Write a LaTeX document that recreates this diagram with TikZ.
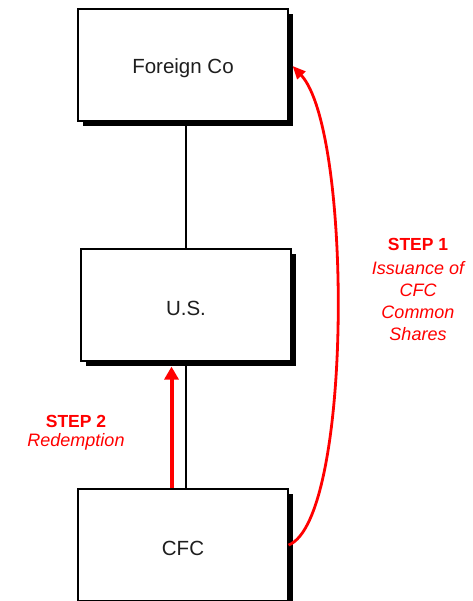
\documentclass[tikz,border=0pt]{standalone}
\usepackage{fontspec}
\setmainfont{Liberation Sans}
\usetikzlibrary{arrows.meta,shadows,calc}
\definecolor{stepred}{RGB}{255,0,0}
\definecolor{labelgray}{RGB}{30,30,30}
\tikzset{
  entity/.style={draw=black, line width=1.2pt, fill=white, minimum width=210pt, minimum height=112pt,
    inner sep=0pt, font=\fontsize{20.5}{24}\selectfont, text=labelgray,
    drop shadow={shadow xshift=5pt, shadow yshift=-5pt, fill=black, opacity=1}},
  link/.style={draw=black, line width=1.2pt},
  steparrow/.style={draw=stepred, line width=4pt, -{Triangle[length=13pt,width=14pt]}},
  curvearrow/.style={draw=stepred, line width=2.8pt, -{Triangle[length=13pt,width=11pt]}},
  steptitle/.style={text=stepred, font=\fontsize{17.5}{21}\selectfont\bfseries, inner sep=0pt},
  stepdesc/.style={text=stepred, font=\fontsize{18}{22.2}\selectfont\itshape, align=center, inner sep=0pt},
}
\newcommand{\boxlabel}[1]{\raisebox{-3pt}[\height][\depth]{#1}}
\begin{document}
\begin{tikzpicture}[x=1pt,y=-1pt]
\clip (0,0) rectangle (472,601);
\fill[white] (0,0) rectangle (472,601);
\node[entity] (fc) at (183,65) {\boxlabel{Foreign Co}};
\node[entity] (us) at (186,305) {\boxlabel{U.S.}};
\node[entity] (cfc) at (183,545) {\boxlabel{CFC}};
\draw[link] (us.north |- fc.south) -- (us.north);
\draw[link] (us.south) -- (us.south |- cfc.north);
\draw[steparrow] ([xshift=-14.5pt]cfc.north -| us.south) -- ([xshift=-14.5pt,yshift=-5pt]us.south);
\draw[curvearrow] (cfc.east) .. controls ($(cfc.east)+(64,-25)$) and ($(fc.east)+(64,65)$) .. ([xshift=4pt,yshift=-1pt]fc.east);
\node[steptitle] (s1t) at (418,244) {STEP 1};
\node[stepdesc, anchor=north] (s1d) at (418,261) {Issuance of\\CFC\\Common\\Shares};
\node[steptitle] (s2t) at (76,421) {STEP 2};
\node[stepdesc] (s2d) at (76,442) {Redemption};
\end{tikzpicture}
\end{document}
